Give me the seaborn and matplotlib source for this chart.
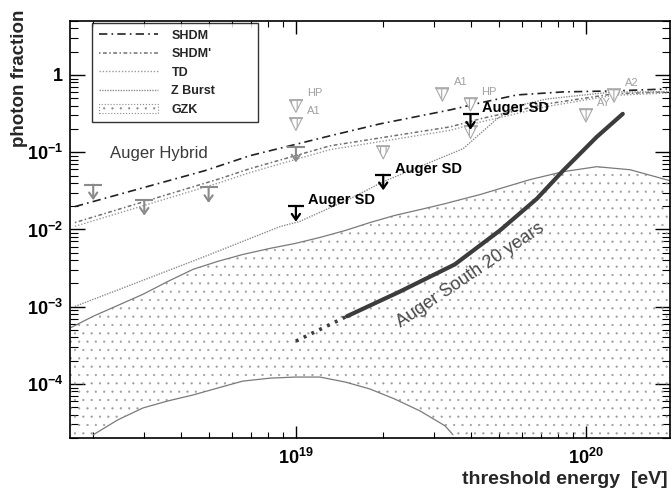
import matplotlib
matplotlib.use("Agg")
import matplotlib.pyplot as plt
from matplotlib.lines import Line2D
from matplotlib.patches import Patch
from matplotlib.ticker import FixedLocator, FixedFormatter, LogLocator, NullFormatter
from matplotlib.font_manager import FontProperties
import numpy as np
import pandas as pd
import seaborn as sns

# ---- model predictions: photon fraction above threshold energy [eV] ----
shdm_e = [1.73e18, 4.85e18, 6.93e18, 1.31e19, 1.95e19, 3.40e19, 4.31e19, 5.78e19, 8.34e19, 1.24e20, 1.90e20]
shdm_f = [0.0198, 0.0577, 0.0901, 0.163, 0.233, 0.353, 0.435, 0.552, 0.604, 0.622, 0.659]

shdm2_e = [1.73e18, 5.47e18, 6.93e18, 1.31e19, 3.40e19, 4.31e19, 7.35e19, 1.24e20, 1.90e20]
shdm2_f = [0.0123, 0.0455, 0.0612, 0.121, 0.213, 0.270, 0.423, 0.569, 0.604]

td_e = [1.73e18, 5.47e18, 6.93e18, 1.31e19, 3.40e19, 4.31e19, 7.35e19, 1.24e20, 1.90e20]
td_f = [0.0110, 0.0405, 0.0545, 0.108, 0.192, 0.245, 0.392, 0.545, 0.585]

zb_e = [1.73e18, 4.67e18, 8.81e18, 1.03e19, 1.54e19, 2.0e19, 3.77e19, 4.93e19, 5.78e19, 7.35e19, 1.24e20, 1.95e20]
zb_f = [1.01e-3, 4.23e-3, 0.0109, 0.0127, 0.0251, 0.0416, 0.111, 0.270, 0.398, 0.490, 0.604, 0.604]

# GZK expectation band (upper / lower edge on a common energy grid)
gzk_e = [1.66e18, 2.00e18, 2.43e18, 2.97e18, 3.62e18, 4.42e18, 5.38e18, 6.56e18, 8.13e18, 9.93e18,
         1.21e19, 1.48e19, 1.80e19, 2.19e19, 2.68e19, 3.27e19, 3.48e19, 4.31e19, 6.41e19, 8.34e19,
         1.09e20, 1.42e20, 1.95e20]
gzk_hi = [5.28e-4, 7.53e-4, 1.04e-3, 1.45e-3, 2.13e-3, 3.05e-3, 3.87e-3, 4.75e-3, 5.69e-3, 6.59e-3,
          7.89e-3, 9.71e-3, 0.0123, 0.0152, 0.0181, 0.0216, 0.0230, 0.0283, 0.0442, 0.0560,
          0.0650, 0.0594, 0.0428]
gzk_lo = [1e-5, 2.20e-5, 3.43e-5, 4.90e-5, 6.04e-5, 7.21e-5, 8.88e-5, 1.09e-4, 1.19e-4, 1.23e-4,
          1.23e-4, 1.06e-4, 8.62e-5, 6.40e-5, 4.48e-5, 2.87e-5, 2.20e-5, 1e-5, 1e-5, 1e-5,
          1e-5, 1e-5, 1e-5]

# Auger South 20 years sensitivity (dotted = extrapolation)
south_ext_e = [1.0e19, 1.5e19]
south_ext_f = [3.59e-4, 7.53e-4]
south_e = [1.5e19, 2.29e19, 3.53e19, 5.05e19, 6.78e19, 8.34e19, 1.09e20, 1.34e20]
south_f = [7.53e-4, 1.58e-3, 3.53e-3, 9.71e-3, 0.0251, 0.0577, 0.158, 0.314]

# ---- measured upper limits ----
sd_e = [1e19, 2e19, 4e19]
sd_f = [0.020, 0.051, 0.31]

hyb_e = [2e18, 3e18, 5e18, 1e19]
hyb_f = [0.038, 0.024, 0.035, 0.117]

other_lbl = ["HP", "A1", "", "A1", "HP", "", "AY", "A2"]
other_e = [1e19, 1e19, 2e19, 3.2e19, 4e19, 4e19, 1e20, 1.25e20]
other_f = [0.48, 0.28, 0.12, 0.67, 0.50, 0.22, 0.36, 0.65]

# ---- style ----
sns.set_theme(style="ticks")
plt.rcParams["font.family"] = ["Liberation Sans", "DejaVu Sans"]
plt.rcParams["mathtext.fontset"] = "custom"
plt.rcParams["mathtext.rm"] = "Liberation Sans:bold"
plt.rcParams["mathtext.bf"] = "Liberation Sans:bold"
plt.rcParams["mathtext.it"] = "Liberation Sans:bold"

fig = plt.figure(figsize=(6.72, 4.92), dpi=100)
fig.patch.set_facecolor("white")
ax = fig.add_axes([70 / 672, 1 - 438 / 492, 600 / 672, 417 / 492])
ax.set_facecolor("white")
ax.set_xscale("log")
ax.set_yscale("log")
ax.set_xlim(10 ** 18.221, 10 ** 20.29)
ax.set_ylim(2e-5, 5)

# GZK band: sparse stipple
plt.rcParams["hatch.linewidth"] = 0.35
ax.fill_between(gzk_e, gzk_lo, gzk_hi, facecolor="none", edgecolor="#9c9c9c",
                hatch="..", linewidth=0, zorder=1)
sns.lineplot(x=gzk_e, y=gzk_hi, ax=ax, color="#7a7a7a", lw=0.9, sort=False, zorder=2)
arch = [(e, v) for e, v in zip(gzk_e, gzk_lo) if v > 1.5e-5]
sns.lineplot(x=[a[0] for a in arch], y=[a[1] for a in arch], ax=ax, color="#7a7a7a",
             lw=0.9, sort=False, zorder=2)

# model curves
styles = {
    "SHDM": dict(color="#222222", ls=(0, (5, 2.5, 1, 2.5)), lw=1.2),
    "SHDM'": dict(color="#707070", ls=(0, (1, 1.6, 2.5, 1.6)), lw=1.1),
    "TD": dict(color="#9a9a9a", ls=(0, (1, 1.3)), lw=1.0),
    "Z Burst": dict(color="#8c8c8c", ls=(0, (1, 0.9)), lw=1.0),
}
for name, ee, ff in [("SHDM", shdm_e, shdm_f), ("SHDM'", shdm2_e, shdm2_f),
                     ("TD", td_e, td_f), ("Z Burst", zb_e, zb_f)]:
    sns.lineplot(x=ee, y=ff, ax=ax, sort=False, zorder=3, **styles[name])

# Auger South projection
sns.lineplot(x=south_ext_e, y=south_ext_f, ax=ax, color="#3c3c3c", lw=2.6,
             ls=(0, (0.8, 1.6)), sort=False, zorder=4)
sns.lineplot(x=south_e, y=south_f, ax=ax, color="#3c3c3c", lw=3.0, sort=False, zorder=4)
ax.text(4.0e19, 2.55e-3, "Auger South 20 years", fontsize=13, color="#4a4a4a",
        rotation=34, ha="center", va="center", rotation_mode="anchor", zorder=5)


def limit_arrows(E, F, color, lw, bar, drop=10 ** -0.2, head=0.35):
    for e, v in zip(E, F):
        ax.plot([e], [v], marker="_", ms=bar, mew=lw, color=color, zorder=6)
        ax.annotate("", xy=(e, v * drop), xytext=(e, v),
                    arrowprops=dict(arrowstyle=f"->,head_length={head},head_width={head * 0.7}",
                                    color=color, lw=lw, shrinkA=0, shrinkB=0), zorder=6)


# other experiments: hatched triangles under a bar
plt.rcParams["hatch.linewidth"] = 0.8
ax.scatter(other_e, [v * 10 ** -0.085 for v in other_f], marker="v", s=80,
           facecolor="white", edgecolor="#a8a8a8", hatch="|||", linewidth=0.8, zorder=5)
ax.scatter(other_e, other_f, marker="_", s=110, color="#a8a8a8", linewidth=1.2, zorder=5)
for lbl, e, v in zip(other_lbl, other_e, other_f):
    if lbl:
        ax.annotate(lbl, (e, v), xytext=(8, 4.5), textcoords="offset points", fontsize=8,
                    color="#a0a0a0", ha="left", va="center", zorder=5)

limit_arrows(hyb_e, hyb_f, "#8a8a8a", 1.5, 13)
limit_arrows(sd_e, sd_f, "black", 1.6, 11)

for e, v in zip(sd_e, sd_f):
    ax.annotate("Auger SD", (e, v), xytext=(8.4, 4.4), textcoords="offset points",
                fontsize=10.5, fontweight="bold", color="black", ha="left", va="center", zorder=7)
ax.text(2.29e18, 0.0957, "Auger Hybrid", fontsize=12, color="#3a3a3a", ha="left", va="center", zorder=7)

# axes, ticks
ymaj = [1e-4, 1e-3, 1e-2, 1e-1, 1]
ax.yaxis.set_major_locator(FixedLocator(ymaj))
ax.yaxis.set_major_formatter(FixedFormatter([r"$10^{-4}$", r"$10^{-3}$", r"$10^{-2}$", r"$10^{-1}$", r"$1$"]))
ax.yaxis.set_minor_locator(LogLocator(base=10, subs=np.arange(2, 10), numticks=50))
ax.yaxis.set_minor_formatter(NullFormatter())
xmaj = [1e19, 1e20]
ax.xaxis.set_major_locator(FixedLocator(xmaj))
ax.xaxis.set_major_formatter(FixedFormatter([r"$10^{19}$", r"$10^{20}$"]))
ax.xaxis.set_minor_locator(LogLocator(base=10, subs=np.arange(2, 10), numticks=50))
ax.xaxis.set_minor_formatter(NullFormatter())

ax.tick_params(axis="both", which="both", direction="in", top=True, right=True,
               color="black", labelcolor="black")
ax.tick_params(axis="y", which="major", length=11, width=1.0, labelsize=13, pad=5)
ax.tick_params(axis="y", which="minor", length=5.5, width=0.8)
ax.tick_params(axis="x", which="major", length=9, width=1.0, labelsize=13, pad=7)
ax.tick_params(axis="x", which="minor", length=4.5, width=0.8)
for s in ax.spines.values():
    s.set_color("black")
    s.set_linewidth(1.2)
ax.grid(False)

fig.text(20 / 672, 1 - 10 / 492, "photon fraction", rotation=90, ha="center", va="top",
         fontsize=13.5, fontweight="bold")
fig.text(668 / 672, 1 - 479 / 492, "threshold energy  [eV]", ha="right", va="center",
         fontsize=14, fontweight="bold")

# legend
plt.rcParams["hatch.linewidth"] = 0.35
handles = [Line2D([], [], **styles["SHDM"]), Line2D([], [], **styles["SHDM'"]),
           Line2D([], [], **styles["TD"]), Line2D([], [], **styles["Z Burst"]),
           Patch(facecolor="white", edgecolor="#8a8a8a", hatch="..", linestyle=":", linewidth=0.8)]
labels = ["SHDM", "SHDM'", "TD", "Z Burst", "GZK"]
leg = ax.legend(handles, labels, loc="upper left", bbox_to_anchor=(0.0367, 0.996, 0.277, 0.0),
                mode="expand", borderaxespad=0, frameon=True, fancybox=False,
                prop=FontProperties(family="Liberation Sans", weight="bold", size=9),
                handlelength=4.7, handletextpad=1.1, labelspacing=0.52, borderpad=0.55)
leg.get_frame().set_edgecolor("black")
leg.get_frame().set_linewidth(1.0)
leg.get_frame().set_facecolor("white")
leg.set_zorder(10)

fig.savefig("out.png", dpi=100, facecolor="white")
